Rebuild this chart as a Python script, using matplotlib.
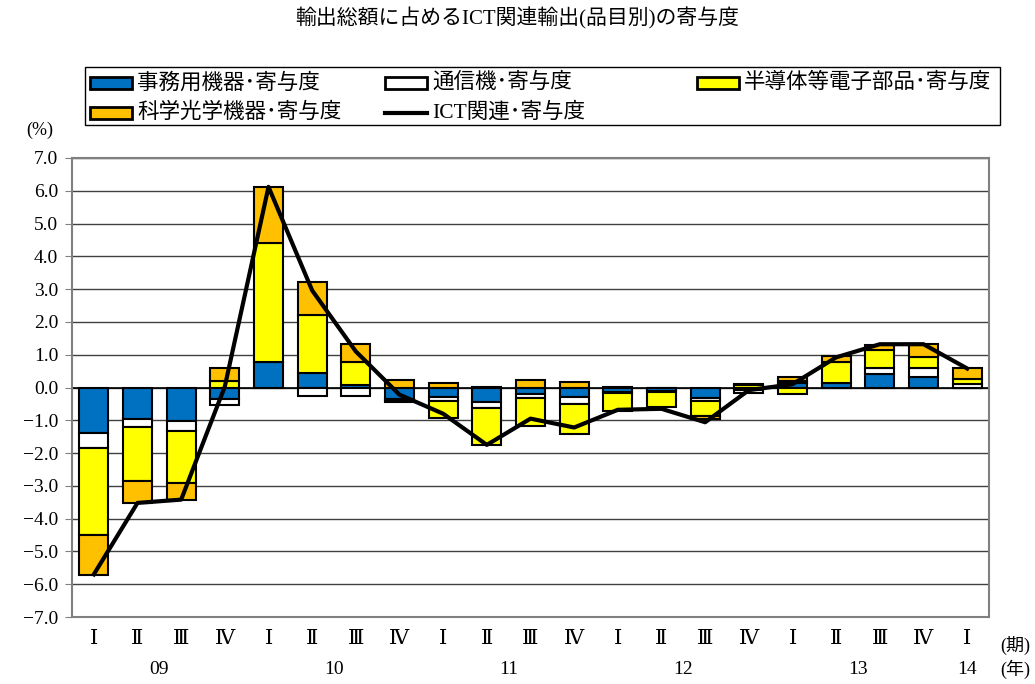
import numpy as np
import matplotlib
matplotlib.use('Agg')
import matplotlib.pyplot as plt
from matplotlib.patches import Rectangle
from matplotlib.lines import Line2D
import matplotlib.transforms as mtransforms

plt.rcParams['font.family'] = ['Liberation Serif', 'DejaVu Serif', 'Noto Sans CJK JP']

# 期 (quarter) labels, 2009 Q1 .. 2014 Q1
quarters = ['Ⅰ', 'Ⅱ', 'Ⅲ', 'Ⅳ', 'Ⅰ', 'Ⅱ', 'Ⅲ', 'Ⅳ', 'Ⅰ', 'Ⅱ', 'Ⅲ', 'Ⅳ',
            'Ⅰ', 'Ⅱ', 'Ⅲ', 'Ⅳ', 'Ⅰ', 'Ⅱ', 'Ⅲ', 'Ⅳ', 'Ⅰ']
years = ['09', '10', '11', '12', '13', '14']
year_pos = [1.5, 5.5, 9.5, 13.5, 17.5, 20]

# 寄与度 (%) by item
office = [-1.39, -0.96, -1.02, -0.34, 0.78, 0.45, 0.07, -0.36, -0.29, -0.44, -0.21,
          -0.29, -0.13, -0.12, -0.31, -0.08, 0.15, 0.14, 0.41, 0.33, 0.0]
telecom = [-0.46, -0.26, -0.31, -0.20, 0.0, -0.26, -0.25, -0.04, -0.12, -0.18, -0.12,
           -0.20, -0.03, -0.03, -0.10, -0.10, 0.05, 0.0, 0.17, 0.27, 0.12]
semi = [-2.64, -1.62, -1.57, 0.20, 3.63, 1.75, 0.71, -0.04, -0.52, -1.14, -0.85,
        -0.92, -0.55, -0.46, -0.46, 0.08, -0.20, 0.64, 0.56, 0.34, 0.15]
optical = [-1.22, -0.68, -0.52, 0.38, 1.71, 1.02, 0.56, 0.22, 0.14, 0.03, 0.22,
           0.18, 0.03, 0.0, -0.10, 0.03, 0.12, 0.17, 0.17, 0.39, 0.33]
ict_total = [-5.70, -3.52, -3.42, 0.03, 6.12, 2.96, 1.10, -0.22, -0.80, -1.75, -0.95,
             -1.22, -0.68, -0.65, -1.06, -0.08, 0.10, 0.92, 1.32, 1.32, 0.58]

names = ['事務用機器･寄与度', '通信機･寄与度', '半導体等電子部品･寄与度',
         '科学光学機器･寄与度', 'ICT関連･寄与度']
colors = ['#0070C0', '#FFFFFF', '#FFFF00', '#FFC000']

W, H = 1035, 684
fig = plt.figure(figsize=(W / 100, H / 100), dpi=100)
ax = fig.add_axes([72 / W, 1 - 617 / H, (989 - 72) / W, (617 - 158) / H])

x = np.arange(len(quarters))
pos = np.zeros(len(x))
neg = np.zeros(len(x))
for vals, c in zip([office, telecom, semi, optical], colors):
    v = np.array(vals)
    bottom = np.where(v >= 0, pos, neg)
    ax.bar(x, v, 0.66, bottom=bottom, color=c, edgecolor='black', linewidth=1.5, zorder=3)
    pos += np.where(v >= 0, v, 0)
    neg += np.where(v < 0, v, 0)
ax.plot(x, ict_total, color='black', lw=3, zorder=4)

ax.set_xlim(-0.5, len(x) - 0.5)
ax.set_ylim(-7, 7)
yt = np.arange(-7, 8, 1.0)
ax.set_yticks(yt)
ax.set_yticklabels([f'{v:.1f}'.replace('-', '−') for v in yt], fontsize=14)
ax.yaxis.grid(True, color='#404040', lw=1)
ax.set_axisbelow(True)
ax.axhline(0, color='black', lw=1.2, zorder=2)
ax.tick_params(axis='y', length=5, color='#808080', pad=5)
ax.set_xticks(x)
ax.set_xticklabels(quarters, fontsize=15)
ax.tick_params(axis='x', length=0, pad=9)
for s in ax.spines.values():
    s.set_color('#808080')
    s.set_linewidth(1.5)

trans = mtransforms.blended_transform_factory(ax.transData, ax.transAxes)
for p, y in zip(year_pos, years):
    ax.text(p, (617 - 670) / 459, y, transform=trans, ha='center', va='center', fontsize=14)

def fx(px):
    return px / W

def fy(py):
    return 1 - py / H

fig.text(fx(517), fy(18), '輸出総額に占めるICT関連輸出(品目別)の寄与度', ha='center', va='center', fontsize=15)
fig.text(fx(40), fy(130), '(%)', ha='center', va='center', fontsize=13)
fig.text(fx(1015), fy(645), '(期)', ha='center', va='center', fontsize=13)
fig.text(fx(1015), fy(669), '(年)', ha='center', va='center', fontsize=13)

# legend
fig.add_artist(Rectangle((fx(85), fy(125)), fx(1000) - fx(85), fy(67) - fy(125),
                         transform=fig.transFigure, facecolor='white', edgecolor='black', lw=1))
slots = [(90, 83), (385, 83), (697, 83), (90, 113), (385, 113)]
for i, (hx, hy) in enumerate(slots):
    if i < 4:
        fig.add_artist(Rectangle((fx(hx), fy(hy + 6)), fx(42), fy(0) - fy(12),
                                 transform=fig.transFigure, facecolor=colors[i],
                                 edgecolor='black', lw=2))
    else:
        fig.add_artist(Line2D([fx(hx), fx(hx + 42)], [fy(hy), fy(hy)],
                              transform=fig.transFigure, color='black', lw=3))
    fig.text(fx(hx + 47), fy(hy), names[i], ha='left', va='center', fontsize=15.5)

fig.savefig('out.png', dpi=100)
